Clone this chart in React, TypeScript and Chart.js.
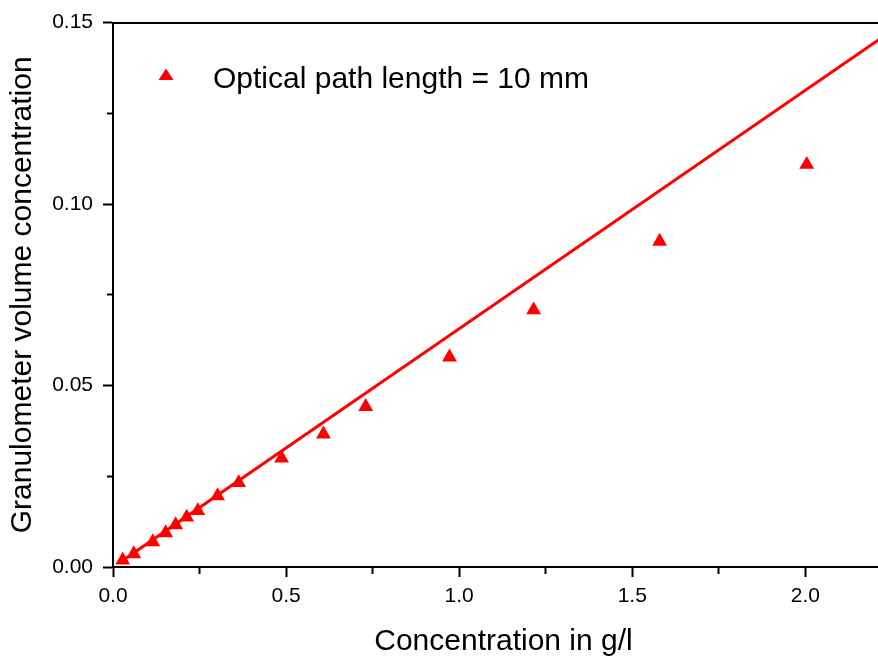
import React, { useEffect, useRef } from 'react';
import { Chart, registerables } from 'chart.js';

Chart.register(...registerables);

// Measured data (concentration in g/l vs granulometer volume concentration)
const concentration = [0.028, 0.06, 0.115, 0.152, 0.181, 0.213, 0.245, 0.302, 0.363, 0.487, 0.608, 0.73, 0.972, 1.215, 1.579, 2.004];
const volumeConcentration = [0.0019, 0.0036, 0.0069, 0.0094, 0.0116, 0.0137, 0.0155, 0.0196, 0.0232, 0.03, 0.0366, 0.0442, 0.0578, 0.0708, 0.0897, 0.1109];

// Linear fit line end points
const fitX = [0.028, 2.256];
const fitY = [0.0018, 0.1482];

const xMax = 2.256;
const yMax = 0.15;
const xTickValues = [0, 0.25, 0.5, 0.75, 1.0, 1.25, 1.5, 1.75, 2.0];
const xTickLabels = ['0.0', '', '0.5', '', '1.0', '', '1.5', '', '2.0'];
const yTickValues = [0, 0.025, 0.05, 0.075, 0.1, 0.125, 0.15];
const yTickLabels = ['0.00', '', '0.05', '', '0.10', '', '0.15'];

const seriesLabel = 'Optical path length = 10 mm';
const xTitle = 'Concentration in g/l';
const yTitle = 'Granulometer volume concentration';

const FONT = '"Liberation Sans", Arial, Helvetica, sans-serif';
const RED = '#ff0000';

const insideLegend = {
  id: 'insideLegend',
  afterDatasetsDraw(chart: any) {
    const { ctx, chartArea } = chart;
    const ds = chart.data.datasets[0];
    const cx = chartArea.left + 53;
    const cy = chartArea.top + 52;
    ctx.save();
    ctx.fillStyle = ds.backgroundColor;
    ctx.beginPath();
    ctx.moveTo(cx, cy - 6);
    ctx.lineTo(cx + 7.5, cy + 5.5);
    ctx.lineTo(cx - 7.5, cy + 5.5);
    ctx.closePath();
    ctx.fill();
    ctx.fillStyle = '#000';
    ctx.font = '30px ' + FONT;
    ctx.textAlign = 'left';
    ctx.textBaseline = 'alphabetic';
    ctx.fillText(ds.label, chartArea.left + 100, chartArea.top + 65);
    ctx.restore();
  },
};

export default function App() {
  const canvasRef = useRef<HTMLCanvasElement | null>(null);

  useEffect(() => {
    document.body.style.margin = '0';
    document.body.style.overflow = 'hidden';
    const canvas = canvasRef.current;
    if (!canvas) return;
    Chart.defaults.font.family = FONT;
    Chart.defaults.color = '#000';

    const chart = new Chart(canvas, {
      type: 'scatter',
      data: {
        datasets: [
          {
            label: seriesLabel,
            data: concentration.map((x, i) => ({ x, y: volumeConcentration[i] })),
            pointStyle: 'triangle',
            pointRadius: 8.6,
            pointHoverRadius: 8.6,
            backgroundColor: RED,
            borderColor: RED,
            borderWidth: 0,
            order: 1,
          },
          {
            type: 'line',
            label: 'fit',
            data: fitX.map((x, i) => ({ x, y: fitY[i] })),
            borderColor: RED,
            backgroundColor: RED,
            borderWidth: 3,
            pointRadius: 0,
            showLine: true,
            fill: false,
            order: 2,
          } as any,
        ],
      },
      options: {
        responsive: false,
        animation: false,
        devicePixelRatio: 1,
        layout: { autoPadding: false, padding: { top: 22, left: 0, right: 0, bottom: 0 } },
        plugins: {
          legend: { display: false },
          tooltip: { enabled: false },
        },
        scales: {
          x: {
            type: 'linear',
            position: 'bottom',
            min: 0,
            max: xMax,
            afterBuildTicks: (s: any) => {
              s.ticks = xTickValues.map((v) => ({ value: v }));
            },
            afterFit: (s: any) => {
              s.height = 93;
            },
            ticks: {
              autoSkip: false,
              maxRotation: 0,
              minRotation: 0,
              padding: 7,
              color: '#000',
              font: { size: 21, family: FONT },
              callback: (_v: any, i: number) => xTickLabels[i],
            },
            grid: {
              drawOnChartArea: false,
              drawTicks: true,
              tickLength: 10,
              tickWidth: 2,
              tickColor: '#000',
              tickBorderDash: (ctx: any) => (ctx.index % 2 === 1 ? [6, 100] : []),
            },
            border: { display: true, color: '#000', width: 2 },
            title: {
              display: true,
              text: xTitle,
              color: '#000',
              font: { size: 30, family: FONT },
              padding: { top: 0, bottom: 0 },
            },
          },
          x2: {
            type: 'linear',
            position: 'top',
            min: 0,
            max: xMax,
            afterFit: (s: any) => {
              s.height = 0;
            },
            ticks: { display: false },
            grid: { drawOnChartArea: false, drawTicks: false },
            border: { display: true, color: '#000', width: 2 },
          },
          y: {
            type: 'linear',
            position: 'left',
            min: 0,
            max: yMax,
            afterBuildTicks: (s: any) => {
              s.ticks = yTickValues.map((v) => ({ value: v }));
            },
            afterFit: (s: any) => {
              s.width = 113;
            },
            ticks: {
              autoSkip: false,
              padding: 10,
              color: '#000',
              font: { size: 21, family: FONT },
              callback: (_v: any, i: number) => yTickLabels[i],
            },
            grid: {
              drawOnChartArea: false,
              drawTicks: true,
              tickLength: 10,
              tickWidth: 2,
              tickColor: '#000',
              tickBorderDash: (ctx: any) => (ctx.index % 2 === 1 ? [0, 4, 5, 100] : []),
            },
            border: { display: true, color: '#000', width: 2 },
            title: {
              display: true,
              text: yTitle,
              color: '#000',
              font: { size: 30, family: FONT },
              padding: { top: 5, bottom: 0 },
            },
          },
        },
      } as any,
      plugins: [insideLegend],
    });

    return () => chart.destroy();
  }, []);

  return (
    <div style={{ width: 878, height: 660, background: '#fff', overflow: 'hidden', position: 'relative' }}>
      <canvas ref={canvasRef} width={894} height={660} style={{ display: 'block' }} />
    </div>
  );
}
